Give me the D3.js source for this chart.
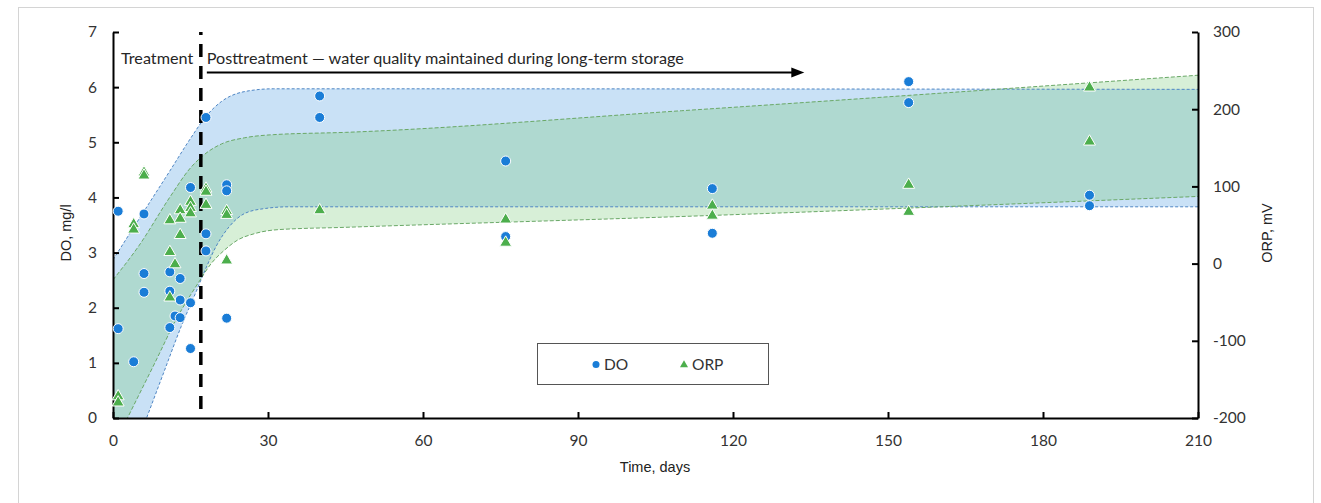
<!DOCTYPE html>
<html>
<head>
<meta charset="utf-8">
<script src="https://cdn.jsdelivr.net/npm/d3@7"></script>
<style>
  html, body { margin: 0; padding: 0; background: #fff; }
  svg { display: block; }
</style>
</head>
<body>
<svg id="chart" width="1321" height="503"></svg>
<script>
// ---------- data ----------
const doDays   = [1,1,4,6,6,6,11,11,11,12,13,13,13,15,15,15,18,18,18,22,22,22,40,40,76,76,116,116,154,154,189,189];
const doValues = [3.75,1.62,1.02,3.70,2.62,2.28,2.65,2.30,1.64,1.85,2.53,2.14,1.82,4.18,2.09,1.26,5.45,3.34,3.03,4.23,4.12,1.81,5.84,5.45,4.66,3.29,4.16,3.35,6.10,5.72,4.04,3.85];

const orpDays   = [1,1,4,4,6,6,11,11,11,12,13,13,13,15,15,15,18,18,18,22,22,22,40,76,76,116,116,154,154,189,189];
const orpValues = [-172,-180,51,44,118,114,56,15,-44,-1,69,58,37,80,72,65,97,93,76,68,63,4,69,57,27,75,62,102,67,228,158];

// envelope bands
const doUpperDays   = [0,6,11,15,18,21,25.5,31,45,210];
const doUpperValues = [2.87,3.75,4.48,5.07,5.47,5.74,5.92,5.97,5.97,5.96];
const doLowerDays   = [0,6.5,10,13.2,16,18,20,22.5,25.5,29.5,34,45,210];
const doLowerValues = [-1.6,0,0.87,1.66,2.27,2.72,3.12,3.47,3.71,3.80,3.83,3.83,3.83];
const orpUpperDays   = [0,5,11,15,18,21,25.5,31,45,110,210];
const orpUpperValues = [-21,23,86,124,143,155,163,167,170,198,244];
const orpLowerDays   = [0,2.8,8,12.5,16.5,19,21.5,24,27.5,32,45,110,210];
const orpLowerValues = [-238,-200,-130,-69,-25,0,17,30,39,44,47,61,87];

const treatmentEndDay = 17;
const arrowEndDay = 133.8;

const xTicks = [0,30,60,90,120,150,180,210];
const doTicks = [0,1,2,3,4,5,6,7];
const orpTicks = [-200,-100,0,100,200,300];

const labelTreatment = "Treatment";
const labelPost = "Posttreatment \u2014 water quality maintained during long-term storage";
const seriesNames = ["DO", "ORP"];

// ---------- layout ----------
const svg = d3.select("#chart");
const L = 113, R = 1198, T = 32, B = 418;
const x = d3.scaleLinear().domain([0,210]).range([L,R]);
const yDO = d3.scaleLinear().domain([0,7]).range([B,T]);
const yORP = d3.scaleLinear().domain([-200,300]).range([B,T]);

const tickFont = "Lato, 'Open Sans', sans-serif";
const titleFont = "'Liberation Sans', Arial, sans-serif";
const fmt = d => String(d);

// outer border
svg.append("rect").attr("x",18.5).attr("y",7.5).attr("width",1295).attr("height",520)
  .attr("fill","none").attr("stroke","#d4d4d4").attr("stroke-width",1);

svg.append("clipPath").attr("id","plotclip").append("rect")
  .attr("x",L).attr("y",T).attr("width",R-L).attr("height",B-T);

const plot = svg.append("g").attr("clip-path","url(#plotclip)");

function bandPath(upD, upV, loD, loV, ys) {
  const line = d3.line().x(d=>x(d[0])).y(d=>ys(d[1])).curve(d3.curveMonotoneX);
  const up = upD.map((d,i)=>[d, upV[i]]);
  const lo = loD.map((d,i)=>[d, loV[i]]);
  const p1 = line(up);
  const p2 = line(lo.slice().reverse());
  return { area: p1 + p2.replace(/^M/, "L") + "Z", upper: line(up), lower: line(lo) };
}

const doBand = bandPath(doUpperDays, doUpperValues, doLowerDays, doLowerValues, yDO);
const orpBand = bandPath(orpUpperDays, orpUpperValues, orpLowerDays, orpLowerValues, yORP);

plot.append("path").attr("d", doBand.area).attr("fill","#c9e1f6").attr("stroke","none");
plot.append("path").attr("d", orpBand.area).attr("fill","rgb(108,195,108)").attr("fill-opacity",0.27).attr("stroke","none");

[doBand.upper, doBand.lower].forEach(d=>{
  plot.append("path").attr("d", d).attr("fill","none").attr("stroke","#4f86c4")
    .attr("stroke-width",1).attr("stroke-dasharray","3,2");
});
[orpBand.upper, orpBand.lower].forEach(d=>{
  plot.append("path").attr("d", d).attr("fill","none").attr("stroke","#6aa867")
    .attr("stroke-width",1).attr("stroke-dasharray","4,2");
});

// treatment boundary
svg.append("line")
  .attr("x1", x(treatmentEndDay)).attr("x2", x(treatmentEndDay))
  .attr("y1", T).attr("y2", B)
  .attr("stroke","#000").attr("stroke-width",3.5)
  .attr("stroke-dasharray","13,9").attr("stroke-dashoffset",10);

// annotation texts
svg.append("text").attr("x", x(0)+8).attr("y", 64)
  .attr("font-family", tickFont).attr("font-size", 16.2).attr("fill","#262626").text(labelTreatment);
svg.append("text").attr("x", x(treatmentEndDay)+6).attr("y", 64)
  .attr("font-family", tickFont).attr("font-size", 16.2).attr("fill","#262626").text(labelPost);

// arrow
const arrowY = 72.5;
svg.append("line").attr("x1", x(treatmentEndDay)+6).attr("x2", x(arrowEndDay)-10)
  .attr("y1", arrowY).attr("y2", arrowY).attr("stroke","#000").attr("stroke-width",2);
svg.append("path")
  .attr("d", `M${x(arrowEndDay)},${arrowY} L${x(arrowEndDay)-13},${arrowY-5} L${x(arrowEndDay)-13},${arrowY+5} Z`)
  .attr("fill","#000");

// axes
function styleAxis(g) {
  g.selectAll(".domain").attr("stroke","#000").attr("stroke-width",2);
  g.selectAll(".tick line").attr("stroke","#000").attr("stroke-width",2);
  g.selectAll("text").attr("font-family", tickFont).attr("font-size", 15.5).attr("fill","#333");
}
svg.append("g").attr("transform",`translate(0,${B})`)
  .call(d3.axisBottom(x).tickValues(xTicks).tickFormat(fmt).tickSizeInner(-6).tickSizeOuter(0).tickPadding(17))
  .call(styleAxis);
svg.append("g").attr("transform",`translate(${L},0)`)
  .call(d3.axisLeft(yDO).tickValues(doTicks).tickFormat(fmt).tickSizeInner(-6).tickSizeOuter(0).tickPadding(16))
  .call(styleAxis);
svg.append("g").attr("transform",`translate(${R},0)`)
  .call(d3.axisRight(yORP).tickValues(orpTicks).tickFormat(fmt).tickSizeInner(-6).tickSizeOuter(0).tickPadding(15))
  .call(styleAxis);

// axis titles
svg.append("text").attr("transform",`translate(71,${(T+B)/2 + 8}) rotate(-90)`)
  .attr("text-anchor","middle").attr("font-family",titleFont).attr("font-size",14.5).attr("fill","#222")
  .text("DO, mg/l");
svg.append("text").attr("transform",`translate(1272,${(T+B)/2 + 8}) rotate(-90)`)
  .attr("text-anchor","middle").attr("font-family",titleFont).attr("font-size",14.5).attr("fill","#222")
  .text("ORP, mV");
svg.append("text").attr("x", 655).attr("y", 472)
  .attr("text-anchor","middle").attr("font-family",titleFont).attr("font-size",14.5).attr("fill","#222")
  .text("Time, days");

// points
const doColor = "#1a7dd7", orpColor = "#4cae4c";
svg.append("g").selectAll("circle").data(doDays.map((d,i)=>[d, doValues[i]])).join("circle")
  .attr("cx", d=>x(d[0])).attr("cy", d=>yDO(d[1])).attr("r", 5)
  .attr("fill", doColor).attr("stroke","#fff").attr("stroke-width",1);
const tri = d3.symbol().type(d3.symbolTriangle).size(62);
svg.append("g").selectAll("path").data(orpDays.map((d,i)=>[d, orpValues[i]])).join("path")
  .attr("d", tri).attr("transform", d=>`translate(${x(d[0])},${yORP(d[1])})`)
  .attr("fill", orpColor).attr("stroke","#fff").attr("stroke-width",1);

// legend
const lg = svg.append("g");
lg.append("rect").attr("x",537.5).attr("y",343.5).attr("width",231).attr("height",41)
  .attr("fill","#fff").attr("stroke","#555").attr("stroke-width",1);
lg.append("circle").attr("cx",596).attr("cy",364.5).attr("r",3.5).attr("fill",doColor);
lg.append("text").attr("x",604).attr("y",370).attr("font-family",tickFont).attr("font-size",15.5).attr("fill","#333").text(seriesNames[0]);
lg.append("path").attr("d", d3.symbol().type(d3.symbolTriangle).size(28)).attr("transform","translate(684,365)").attr("fill",orpColor);
lg.append("text").attr("x",692).attr("y",370).attr("font-family",tickFont).attr("font-size",15.5).attr("fill","#333").text(seriesNames[1]);
</script>
</body>
</html>
